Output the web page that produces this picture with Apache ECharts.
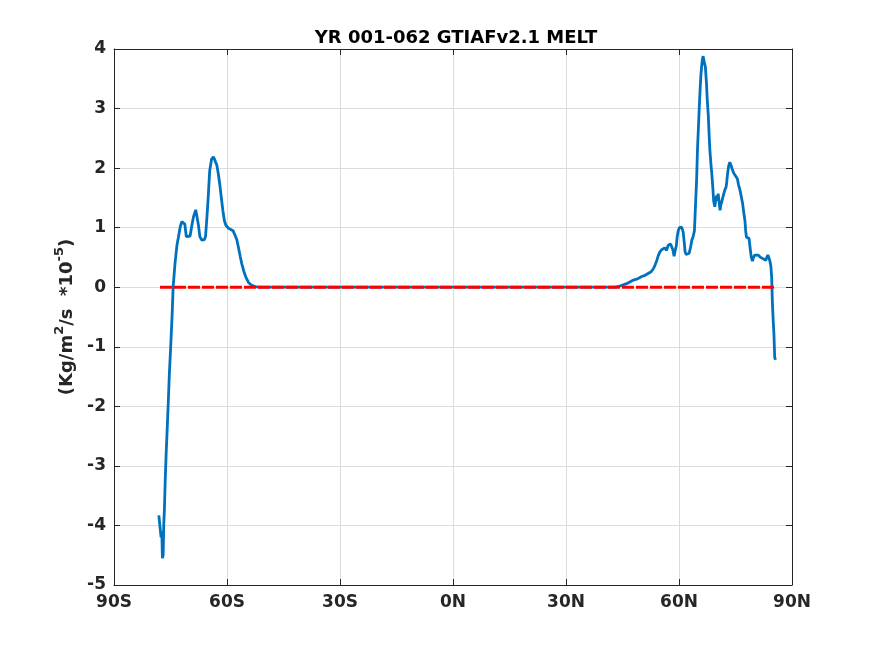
<!DOCTYPE html>
<html><head><meta charset="utf-8">
<script src="https://cdn.jsdelivr.net/npm/echarts@6/dist/echarts.min.js"></script>
<style>html,body{margin:0;padding:0;background:#fff}#c{width:875px;height:656px}</style>
</head><body><div id="c"></div>
<script>
const titleText = 'YR 001-062 GTIAFv2.1 MELT';
const yNameParts = ['(Kg/m', '2', '/s  *10', '-5', ')'];
const xTickLabels = ['90S','60S','30S','0N','30N','60N','90N'];
const meltLat = [
-78.1,-77.7,-77.5,-77.3,-77.15,-76.95,-76.8,-76.6,-76.4,-76.15,-75.85,-75.6,-75.3,-74.95,-74.55,-74.3,-73.8,-73.3,-72.9,-72.4,-72.0,-71.5,-71.2,-70.8,-70.5,-69.8,-69.3,-68.9,-68.3,-68.0,-67.6,-67.2,-66.7,-66.0,-65.7,-65.3,-65.0,-64.6,-64.1,-63.6,-63.2,-62.7,-62.3,-61.9,-61.5,-61.1,-60.7,-60.3,-59.6,-59.0,-58.4,-57.9,-57.4,-57.0,-56.5,-56.1,-55.5,-55.0,-54.3,-53.4,-52.5,-51.5,
-30,0,30,
43.0,44.3,46.1,47.9,49.0,50.1,51.0,51.8,52.6,53.2,53.7,54.1,54.5,54.9,55.4,55.8,56.2,56.7,57.1,57.4,57.7,58.0,58.4,58.7,59.0,59.3,59.5,59.8,60.1,60.7,61.1,61.4,61.6,61.9,62.2,62.7,63.1,63.4,63.8,64.1,64.3,64.5,64.7,64.9,65.2,65.4,65.6,65.8,66.0,66.2,66.4,66.6,66.8,67.0,67.3,67.5,67.8,68.0,68.2,68.5,68.7,69.0,69.2,69.5,69.8,70.0,70.2,70.4,70.7,70.9,71.1,71.3,71.6,71.9,72.2,72.5,72.7,72.9,73.2,73.5,73.8,74.1,74.5,74.9,75.5,75.8,76.2,76.6,76.9,77.2,77.5,77.7,77.9,78.3,78.6,78.9,79.2,79.5,79.8,80.1,80.6,81.0,81.7,82.3,83.0,83.3,83.6,83.9,84.1,84.4,84.6,84.8,85.0,85.2,85.4,85.6
];
const meltVal = [
-3.83,-3.83,-4.20,-4.10,-4.55,-4.50,-4.00,-3.70,-3.24,-2.79,-2.34,-1.95,-1.45,-1.00,-0.44,0.00,0.40,0.70,0.84,1.02,1.10,1.10,1.06,0.85,0.82,0.86,1.05,1.18,1.30,1.28,1.05,0.85,0.79,0.80,0.85,1.20,1.50,1.95,2.15,2.19,2.16,2.05,1.90,1.72,1.50,1.29,1.12,1.04,0.99,0.97,0.95,0.92,0.80,0.68,0.52,0.40,0.26,0.17,0.08,0.03,0.01,0.00,
0,0,0,
0.00,0.02,0.06,0.12,0.14,0.18,0.20,0.23,0.26,0.31,0.38,0.45,0.53,0.59,0.63,0.65,0.66,0.62,0.70,0.73,0.73,0.69,0.62,0.52,0.62,0.70,0.84,0.95,1.00,1.01,0.93,0.75,0.60,0.55,0.54,0.57,0.68,0.79,0.86,0.95,1.25,1.55,1.85,2.30,2.75,3.05,3.31,3.55,3.70,3.82,3.88,3.85,3.75,3.70,3.42,3.15,2.86,2.55,2.30,2.05,1.91,1.65,1.45,1.35,1.48,1.54,1.45,1.57,1.40,1.29,1.38,1.42,1.50,1.57,1.64,1.68,1.78,1.91,2.04,2.10,2.05,1.99,1.92,1.88,1.82,1.72,1.63,1.50,1.40,1.25,1.12,0.95,0.84,0.84,0.82,0.65,0.50,0.44,0.50,0.54,0.55,0.54,0.50,0.48,0.45,0.50,0.54,0.52,0.45,0.35,0.17,-0.27,-0.55,-0.78,-1.17,-1.22
];
const zeroLat = [-77.8, 85.3];
const zeroVal = [0, 0];

const FONT = 'DejaVu Sans';
const TXT = '#262626';
const chart = echarts.init(document.getElementById('c'), null, {renderer:'canvas'});
const axLine = {show:true, onZero:false, lineStyle:{color:TXT, width:1}};
const tick = {show:true, inside:true, length:6, lineStyle:{color:TXT, width:1}};
const grid = {show:true, lineStyle:{color:'#dcdcdc', width:1}};
const yName = '{n|' + yNameParts[0] + '}{s|' + yNameParts[1] + '}{n|' + yNameParts[2] + '}{s|' + yNameParts[3] + '}{n|' + yNameParts[4] + '}';
chart.setOption({
  animation:false,
  backgroundColor:'#fff',
  title:{text:titleText, left:451, textAlign:'center', top:24,
    textStyle:{fontFamily:FONT, fontWeight:'bold', fontSize:18, color:'#000'}},
  grid:{left:114, right:83, top:49, bottom:71, containLabel:false},
  xAxis:[
    {type:'value', position:'bottom', min:-90, max:90, interval:30,
     axisLine:axLine, axisTick:tick, splitLine:grid,
     axisLabel:{show:true, margin:9, fontFamily:FONT, fontWeight:'bold', fontSize:17, color:TXT,
       showMinLabel:true, showMaxLabel:true,
       formatter:v=>xTickLabels[Math.round((v+90)/30)]}},
    {type:'value', position:'top', min:-90, max:90, interval:30,
     axisLine:axLine, axisTick:tick, splitLine:{show:false}, axisLabel:{show:false}}
  ],
  yAxis:[
    {type:'value', position:'left', min:-5, max:4, interval:1,
     axisLine:axLine, axisTick:tick, splitLine:grid,
     name:yName, nameLocation:'middle', nameRotate:90, nameGap:33,
     nameTextStyle:{fontFamily:FONT, fontWeight:'bold', fontSize:18, color:TXT,
       rich:{
         n:{fontFamily:FONT, fontWeight:'bold', fontSize:18, color:TXT, lineHeight:23, verticalAlign:'bottom'},
         s:{fontFamily:FONT, fontWeight:'bold', fontSize:13, color:TXT, lineHeight:23, verticalAlign:'top'}
       }},
     axisLabel:{show:true, margin:8, fontFamily:FONT, fontWeight:'bold', fontSize:17, color:TXT,
       showMinLabel:true, showMaxLabel:true}},
    {type:'value', position:'right', min:-5, max:4, interval:1,
     axisLine:axLine, axisTick:tick, splitLine:{show:false}, axisLabel:{show:false}}
  ],
  series:[
    {type:'line', xAxisIndex:0, yAxisIndex:0, showSymbol:false, symbol:'none',
     data:meltLat.map((x,i)=>[x, meltVal[i]]),
     lineStyle:{color:'#0072BD', width:2.8}, z:2},
    {type:'line', xAxisIndex:0, yAxisIndex:0, showSymbol:false, symbol:'none',
     data:zeroLat.map((x,i)=>[x, zeroVal[i]]),
     lineStyle:{color:'#FF0000', width:3, type:[12,2]}, z:3}
  ]
});
</script></body></html>
